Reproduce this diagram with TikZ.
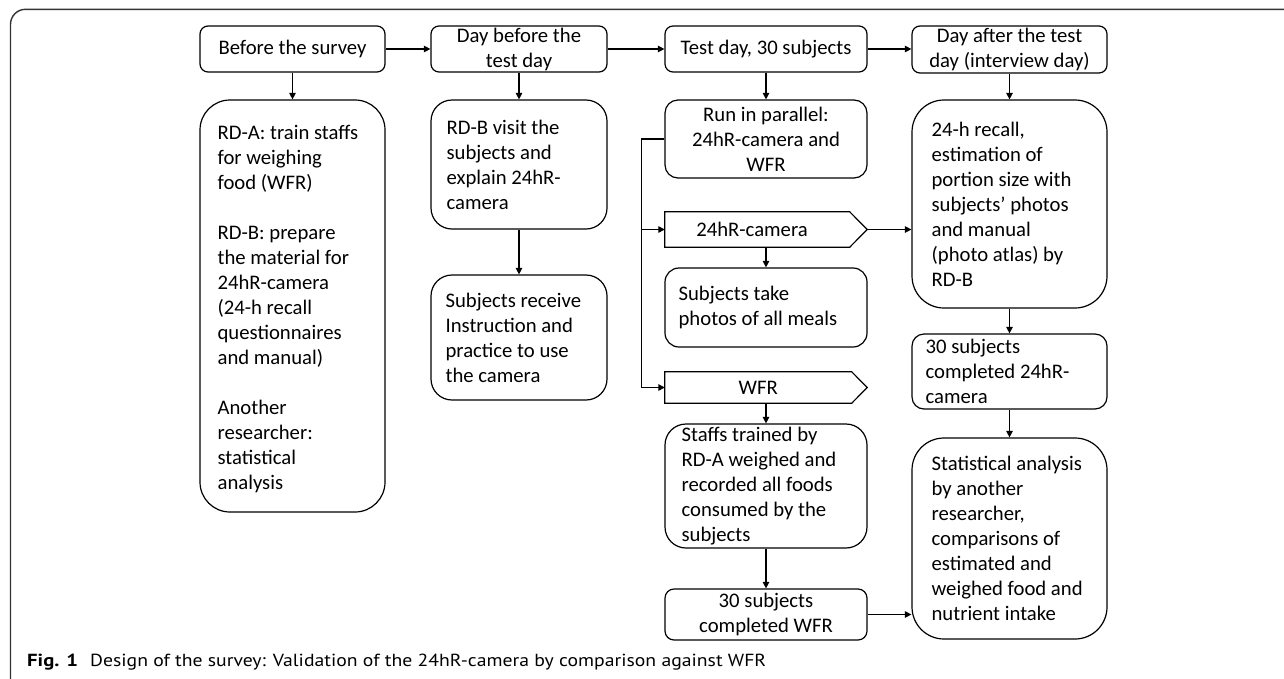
\documentclass[tikz,border=0pt]{standalone}
\usepackage{fontspec}
\usepackage{graphicx}
\setmainfont{Carlito}
\newfontfamily\capfont{PT Sans}
\usetikzlibrary{arrows.meta,calc}
\tikzset{
  box/.style={draw, line width=1.2pt, rounded corners=#1, inner sep=0pt},
  box/.default=8pt,
  shapeline/.style={draw, line width=1.2pt},
  bodytxt/.style={font=\fontsize{20.7}{25}\selectfont},
  ctr/.style={bodytxt, align=center},
  lft/.style={bodytxt, align=left, inner sep=0pt, anchor=west},
  conn/.style={line width=1.2pt},
  arr/.style={line width=1.2pt, -{Triangle[length=6.5pt,width=6.5pt]}},
  frame/.style={line width=1.4pt, draw=black!80, rounded corners=15pt},
  captxt/.style={inner sep=0pt, anchor=base west, font=\capfont\fontsize{17.5}{20}\selectfont}
}
\begin{document}
\begin{tikzpicture}[x=1pt,y=-1pt]
\useasboundingbox (0,0) rectangle (1284,678);
\draw[frame] (10.5,690) -- (10.5,9.3) -- (1300,9.3);

% column 1
\node[box, ctr, minimum width=185pt, minimum height=46pt] (before) at (292.5,49) {Before the survey};
\node[box=30pt, minimum width=185pt, minimum height=412pt] (rda) at (292.5,306) {};
\node[lft] (rdat) at ([xshift=18pt,yshift=-3pt]rda.west) {RD-A: train staffs\\for weighing\\food (WFR)\\[25pt]RD-B: prepare\\the material for\\24hR-camera\\(24-h recall\\questionnaires\\and manual)\\[25pt]Another\\researcher:\\statistical\\analysis};

% column 2
\node[box, ctr, minimum width=176pt, minimum height=46pt] (daybefore) at (519,49) {Day before the\\test day};
\node[box=21pt, minimum width=176pt, minimum height=129pt] (rdb) at (519,164.5) {};
\node[lft] (rdbt) at ([xshift=16pt]rdb.west) {RD-B visit the\\subjects and\\explain 24hR-\\camera};
\node[box=21pt, minimum width=176pt, minimum height=125pt] (recv) at (519,337.5) {};
\node[lft] (recvt) at ([xshift=15pt]recv.west) {Subjects receive\\Instruction and\\practice to use\\the camera};

% column 3
\node[box, ctr, minimum width=202pt, minimum height=46pt] (testday) at (766,49) {Test day, 30 subjects};
\node[box=13pt, ctr, minimum width=202pt, minimum height=78pt] (run) at (766,139) {Run in parallel:\\24hR-camera and\\WFR};
\node[inner sep=0pt, minimum width=184.5pt, minimum height=35pt] (cam) at (757.25,229.5) {};
\coordinate (camtip) at ($(cam.east)+(17.5,0)$);
\draw[shapeline] (cam.north west) -- (cam.north east) -- (camtip) -- (cam.south east) -- (cam.south west) -- cycle;
\node[ctr, inner sep=0pt] (camt) at (752,229.5) {24hR-camera};
\node[box=14pt, minimum width=202pt, minimum height=79pt] (photos) at (766,307.5) {};
\node[lft] (photost) at ([xshift=14pt]photos.west) {Subjects take\\photos of all meals};
\node[ctr, inner sep=0pt, minimum width=186.5pt, minimum height=31pt] (wfr) at (758.25,387.5) {WFR};
\coordinate (wfrtip) at ($(wfr.east)+(15.5,0)$);
\draw[shapeline] (wfr.north west) -- (wfr.north east) -- (wfrtip) -- (wfr.south east) -- (wfr.south west) -- cycle;
\node[box=21pt, minimum width=202pt, minimum height=124pt] (staffs) at (766,486) {};
\node[lft] (staffst) at ([xshift=17pt]staffs.west) {Staffs trained by\\RD-A weighed and\\recorded all foods\\consumed by the\\subjects};
\node[box=9pt, ctr, minimum width=202pt, minimum height=51pt] (wfrdone) at (766,614.5) {30 subjects\\completed WFR};

% column 4
\node[box, ctr, minimum width=195pt, minimum height=47pt] (dayafter) at (1009.5,49.5) {Day after the test\\day (interview day)};
\node[box=32pt, minimum width=195pt, minimum height=208pt] (recall) at (1009.5,204) {};
\node[lft] (recallt) at ([xshift=20pt]recall.west) {24-h recall,\\estimation of\\portion size with\\subjects’ photos\\and manual\\(photo atlas) by\\RD-B};
\node[box=12pt, minimum width=195pt, minimum height=75pt] (camdone) at (1009.5,371.5) {};
\node[lft] (camdonet) at ([xshift=14pt]camdone.west) {30 subjects\\completed 24hR-\\camera};
\node[box=32pt, minimum width=195pt, minimum height=201pt] (stat) at (1009.5,538.5) {};
\node[lft] (statt) at ([xshift=20pt]stat.west) {Statistical analysis\\by another\\researcher,\\comparisons of\\estimated and\\weighed food and\\nutrient intake};

% connectors
\draw[arr] (before) -- (daybefore);
\draw[arr] (daybefore) -- (testday);
\draw[arr] (testday) -- (dayafter.west |- testday.east);
\draw[arr] (before) -- (rda);
\draw[arr] (daybefore) -- (rdb);
\draw[arr] (rdb) -- (recv);
\draw[arr] (testday) -- (run);
\coordinate (jv) at ($(run.west)+(-23,0)$);
\draw[conn] (run.west) -- (jv);
\draw[arr] (jv) |- (wfr.west);
\draw[arr] (jv |- cam.west) -- (cam.west);
\draw[arr] (photos.north |- cam.south) -- (photos.north);
\draw[arr] (camtip) -- (camtip -| recall.west);
\draw[arr] (staffs.north |- wfr.south) -- (staffs.north);
\draw[arr] (staffs) -- (wfrdone);
\draw[arr] (wfrdone.east) -- (wfrdone.east -| stat.west);
\draw[arr] (dayafter) -- (recall);
\draw[arr] (recall) -- (camdone);
\draw[arr] (camdone) -- (stat);

% caption
\node[captxt, font=\capfont\fontsize{17.5}{20}\selectfont\bfseries] (figlab) at (27,666) {\resizebox{51pt}{\height}{Fig. 1}};
\node[captxt] (caption) at (90,666) {\resizebox{676pt}{\height}{Design of the survey: Validation of the 24hR-camera by comparison against WFR}};
\end{tikzpicture}
\end{document}
